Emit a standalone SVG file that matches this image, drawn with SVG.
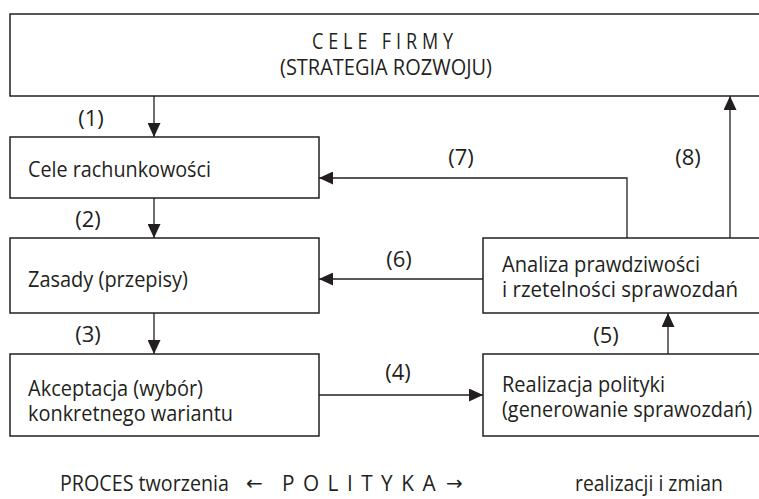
<svg xmlns="http://www.w3.org/2000/svg" width="759" height="499" viewBox="0 0 759 499">
  <defs>
    <marker id="arrow" viewBox="0 0 14 13" refX="14" refY="6.5" markerWidth="14" markerHeight="13" markerUnits="userSpaceOnUse" orient="auto">
      <path d="M0,0 L14,6.5 L0,13 z" fill="#231f20"/>
    </marker>
    <style>
      .box { fill: #ffffff; stroke: #231f20; stroke-width: 1.5; }
      .link { fill: none; stroke: #231f20; stroke-width: 1.3; marker-end: url(#arrow); }
      text { font-family: "Open Sans", "Noto Sans", "DejaVu Sans", sans-serif; font-size: 22px; fill: #231f20; }
      .lbl { text-anchor: middle; }
      .sym { font-family: "DejaVu Sans", sans-serif; font-size: 20px; }
    </style>
  </defs>
  <rect width="759" height="499" fill="#ffffff"/>

  <!-- company goals -->
  <g id="cele-firmy">
    <rect class="box" x="10" y="14" width="770" height="82"/>
    <text x="312" y="49" letter-spacing="6" textLength="146" lengthAdjust="spacingAndGlyphs">CELE FIRMY</text>
    <text x="280" y="75" textLength="212" lengthAdjust="spacingAndGlyphs">(STRATEGIA ROZWOJU)</text>
  </g>

  <g id="cele-rachunkowosci">
    <rect class="box" x="10" y="137" width="309" height="61"/>
    <text x="28" y="177" textLength="183" lengthAdjust="spacingAndGlyphs">Cele rachunkowości</text>
  </g>

  <g id="zasady">
    <rect class="box" x="10" y="238" width="309" height="75"/>
    <text x="28" y="287" textLength="160" lengthAdjust="spacingAndGlyphs">Zasady (przepisy)</text>
  </g>

  <g id="akceptacja">
    <rect class="box" x="10" y="354" width="309" height="82"/>
    <text>
      <tspan x="28" y="396" textLength="175" lengthAdjust="spacingAndGlyphs">Akceptacja (wybór)</tspan>
      <tspan x="28" y="421" textLength="205" lengthAdjust="spacingAndGlyphs">konkretnego wariantu</tspan>
    </text>
  </g>

  <g id="analiza">
    <rect class="box" x="483" y="238" width="300" height="75"/>
    <text>
      <tspan x="502" y="272" textLength="198" lengthAdjust="spacingAndGlyphs">Analiza prawdziwości</tspan>
      <tspan x="502" y="297" textLength="236" lengthAdjust="spacingAndGlyphs">i rzetelności sprawozdań</tspan>
    </text>
  </g>

  <g id="realizacja">
    <rect class="box" x="483" y="354" width="300" height="82"/>
    <text>
      <tspan x="502" y="392" textLength="163" lengthAdjust="spacingAndGlyphs">Realizacja polityki</tspan>
      <tspan x="502" y="417" textLength="250" lengthAdjust="spacingAndGlyphs">(generowanie sprawozdań)</tspan>
    </text>
  </g>

  <!-- connectors with step numbers -->
  <g id="connectors">
    <path class="link" d="M154,96 V137"/>
    <path class="link" d="M154,198 V238"/>
    <path class="link" d="M154,313 V354"/>
    <path class="link" d="M319,395 H483"/>
    <path class="link" d="M668,354 V313"/>
    <path class="link" d="M483,279 H319"/>
    <path class="link" d="M627,238 V178 H319"/>
    <path class="link" d="M730,238 V96"/>
    <text class="lbl" x="91" y="126">(1)</text>
    <text class="lbl" x="88" y="227">(2)</text>
    <text class="lbl" x="88" y="342">(3)</text>
    <text class="lbl" x="398" y="380">(4)</text>
    <text class="lbl" x="606" y="343">(5)</text>
    <text class="lbl" x="399" y="267">(6)</text>
    <text class="lbl" x="461" y="165">(7)</text>
    <text class="lbl" x="688" y="165">(8)</text>
  </g>

  <!-- caption line -->
  <g id="caption">
    <text x="60" y="491" textLength="169" lengthAdjust="spacingAndGlyphs">PROCES tworzenia</text>
    <text y="491"><tspan class="sym" x="246" y="490">←</tspan><tspan x="282" y="491" letter-spacing="9" textLength="162" lengthAdjust="spacingAndGlyphs">POLITYKA</tspan><tspan class="sym" x="446" y="490">→</tspan></text>
    <text x="575" y="491" textLength="148" lengthAdjust="spacingAndGlyphs">realizacji i zmian</text>
  </g>
</svg>
